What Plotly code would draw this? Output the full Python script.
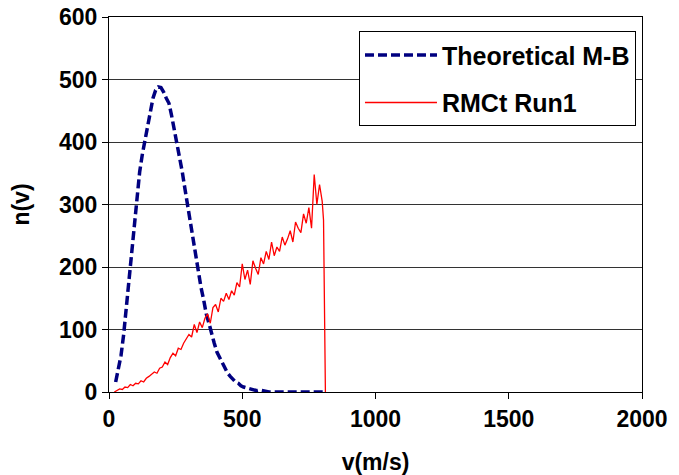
import plotly.graph_objects as go

# Theoretical Maxwell-Boltzmann distribution
mb_v = [25, 35, 45, 55, 65, 75, 85, 95, 105, 115, 125, 135, 145, 155, 165, 175,
        185, 195, 205, 215, 225, 235, 245, 255, 265, 275, 285, 295, 305, 315,
        325, 335, 345, 355, 365, 375, 385, 395, 405, 415, 425, 435, 445, 455,
        465, 475, 485, 495, 505, 515, 525, 535, 545, 555, 565, 575, 585, 600,
        650, 700, 750, 810]
mb_n = [16, 35, 58, 92, 135, 178, 225, 275, 320, 352, 380, 403, 430, 452, 470,
        483, 488, 487, 480, 470, 462, 442, 420, 400, 375, 352, 325, 298, 272,
        245, 222, 195, 168, 148, 125, 110, 92, 78, 64, 55, 45, 38, 30, 25, 20,
        16, 14, 10, 8, 7, 5, 4, 3, 2, 3, 2, 1, 0, 0, 0, 0, 0]

# RMCt Run1 simulated distribution
run_v = [20, 30, 40, 50, 60, 70, 80, 90, 100, 110, 120, 130, 140, 150, 160,
         170, 180, 190, 200, 210, 220, 230, 240, 250, 260, 270, 280, 290, 300,
         310, 320, 330, 340, 350, 360, 370, 380, 390, 400, 410, 420, 430, 440,
         450, 460, 470, 480, 490, 500, 510, 520, 530, 540, 550, 560, 570, 580,
         590, 600, 610, 620, 630, 640, 650, 660, 670, 680, 690, 700, 710, 720,
         730, 740, 750, 760, 770, 780, 790, 800, 805, 812]
run_n = [0, 2, 5, 4, 8, 7, 12, 10, 14, 13, 18, 16, 22, 25, 28, 32, 30, 38, 40,
         48, 44, 55, 62, 58, 70, 68, 78, 85, 92, 88, 108, 95, 112, 103, 118,
         125, 110, 135, 140, 128, 150, 145, 158, 148, 162, 155, 175, 168, 205,
         180, 195, 172, 210, 198, 188, 215, 205, 225, 212, 240, 218, 232, 225,
         248, 235, 245, 258, 240, 272, 262, 255, 285, 270, 295, 262, 348, 300,
         332, 305, 275, 0]

x_ticks = [0, 500, 1000, 1500, 2000]
y_ticks = [0, 100, 200, 300, 400, 500, 600]

FONT = "Liberation Sans, Arial, Helvetica, sans-serif"

fig = go.Figure()
fig.add_trace(go.Scatter(
    x=mb_v, y=mb_n, mode="lines", name="<b>Theoretical M-B</b>",
    legendgroup="a",
    line=dict(color="#000080", width=3.5, dash="9px,4px"),
))
fig.add_trace(go.Scatter(
    x=run_v, y=run_n, mode="lines", name="<b>RMCt Run1</b>",
    legendgroup="b",
    line=dict(color="#FF0000", width=1.3),
))

fig.update_layout(
    width=679, height=475,
    margin=dict(l=109, r=37, t=17, b=83, autoexpand=False),
    paper_bgcolor="white", plot_bgcolor="white",
    font=dict(family=FONT, size=23, color="black"),
    showlegend=True,
    legend=dict(
        x=0.469, y=0.962, xanchor="left", yanchor="top",
        bgcolor="white", bordercolor="black", borderwidth=1,
        font=dict(family=FONT, size=25, color="black"),
        itemwidth=72, tracegroupgap=12,
    ),
    xaxis=dict(
        range=[0, 2000], tickvals=x_ticks,
        ticktext=[f"<b>{t}</b>" for t in x_ticks],
        showgrid=False, zeroline=False, automargin=False,
        showline=True, linecolor="black", linewidth=1.3, mirror=True,
        ticks="outside", ticklen=6, tickcolor="black", tickwidth=1.3,
        title=dict(text="<b>v(m/s)</b>", font=dict(size=23), standoff=24),
    ),
    yaxis=dict(
        range=[0, 600], tickvals=y_ticks,
        ticktext=[f"<b>{t}</b>" for t in y_ticks],
        showgrid=True, gridcolor="#333333", gridwidth=1.3, zeroline=False,
        automargin=False,
        showline=True, linecolor="black", linewidth=1.3, mirror=True,
        ticks="outside", ticklen=6, tickcolor="black", tickwidth=1.3,
        title=dict(text="<b>n(v)</b>", font=dict(size=23), standoff=22),
    ),
)

fig.write_html("out.html",
               config={"displayModeBar": False},
               post_script="document.body.style.margin='0';")
